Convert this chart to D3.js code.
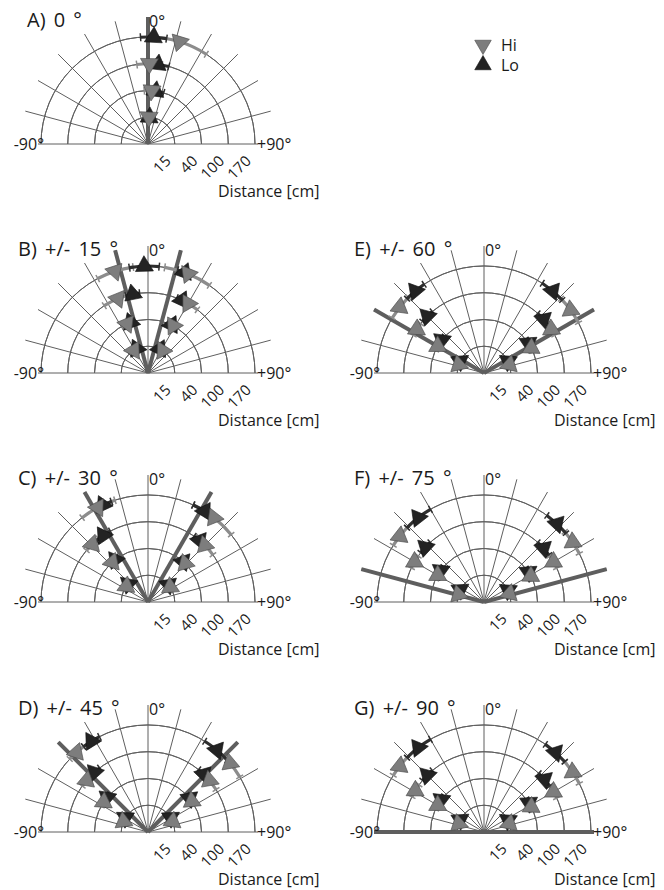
<!DOCTYPE html>
<html>
<head>
<meta charset="utf-8">
<script src="https://cdn.jsdelivr.net/npm/d3@7"></script>
<style>
  body { margin: 0; background: #fff; }
  text { font-family: "Open Sans", sans-serif; fill: #1a1a1a; }
</style>
</head>
<body>
<svg id="chart" width="664" height="890"></svg>
<script>
// distances of the rings (cm) and the target angle of each panel
const distances = [15, 40, 100, 170];
const panelTitles = ["A) 0 °", "B) +/- 15 °", "C) +/- 30 °", "D) +/- 45 °", "E) +/- 60 °", "F) +/- 75 °", "G) +/- 90 °"];
const targetAngles = [0, 15, 30, 45, 60, 75, 90];
const gridAngles = [-75, -60, -45, -30, -15, 0, 15, 30, 45, 60, 75];
const angleTicks = ["-90°", "0°", "+90°"];
const legendLabels = ["Hi", "Lo"];

// perceived angle (deg) per panel, per distance 15/40/100/170
// left = negative target, right = positive target (panel A only has one)
const hiMeanL = [null, [-32, -23, -22, -18], [-54, -42, -44, -28], [-67, -56, -50, -42], [-72, -60, -57, -52], [-74, -60, -60, -52], [-72, -60, -59, -52]];
const hiErrL  = [null, [5, 6, 11, 10], [5, 5, 6, 10], [5, 5, 5, 5], [4, 5, 5, 7], [4, 5, 5, 6], [4, 5, 5, 6]];
const hiMeanR = [[2, 4, 1, 17], [33, 28, 30, 22], [56, 44, 45, 38], [67, 55, 50, 50], [72, 62, 57, 54], [72, 61, 60, 56], [72, 62, 60, 56]];
const hiErrR  = [[5, 8, 9, 16], [5, 6, 8, 13], [5, 5, 9, 13], [5, 5, 8, 9], [4, 5, 5, 8], [4, 5, 5, 7], [4, 5, 5, 7]];

const loMeanL = [null, [-25, -19, -11, -2], [-48, -38, -34, -25], [-58, -50, -42, -32], [-64, -52, -45, -40], [-63, -54, -47, -38], [-63, -53, -45, -38]];
const loErrL  = [null, [4, 5, 5, 8], [4, 5, 6, 5], [4, 5, 5, 5], [4, 5, 5, 6], [4, 5, 5, 8], [4, 5, 5, 8]];
const loMeanR = [[3, 8, 7, 3], [26, 26, 25, 20], [50, 41, 40, 32], [58, 51, 44, 40], [64, 56, 48, 40], [64, 56, 48, 43], [64, 57, 49, 42]];
const loErrR  = [[5, 9, 8, 7], [4, 5, 4, 4], [4, 5, 5, 7], [4, 5, 5, 8], [4, 5, 6, 7], [4, 5, 6, 7], [4, 5, 6, 7]];

// layout
const rOuter = 107, rSpoke = 127, rBase = 110;
const colX = [148, 484];
const rowY = [144, 373, 602, 832];
const panelCol = [0, 0, 0, 0, 1, 1, 1];
const panelRow = [0, 1, 2, 3, 1, 2, 3];

const hiColor = "#7d7d7d", loColor = "#232323";
const gridColor = "#5f5f5f", targetColor = "#5e5e5e";

const svg = d3.select("#chart");

const rScale = d3.scalePoint().domain(distances).range([rOuter / 4, rOuter]);
const aScale = d3.scaleLinear().domain([-90, 90]).range([-Math.PI / 2, Math.PI / 2]);
const polar = (a, r) => [r * Math.sin(aScale(a)), -r * Math.cos(aScale(a))];

const tri = d3.symbol(d3.symbolTriangle, 140);
const legendTri = d3.symbol(d3.symbolTriangle, 118);

panelTitles.forEach((title, p) => {
  const cx = colX[panelCol[p]], cy = rowY[panelRow[p]];
  const g = svg.append("g").attr("transform", `translate(${cx},${cy})`);

  // rings
  g.selectAll(".ring").data(distances).join("path")
    .attr("class", "ring")
    .attr("d", d => d3.arc()({ innerRadius: rScale(d), outerRadius: rScale(d), startAngle: -Math.PI / 2, endAngle: Math.PI / 2 }))
    .attr("fill", "none").attr("stroke", gridColor).attr("stroke-width", 1);

  // spokes
  g.selectAll(".spoke").data(gridAngles).join("line")
    .attr("class", "spoke")
    .attr("x1", 0).attr("y1", 0)
    .attr("x2", d => polar(d, rSpoke)[0]).attr("y2", d => polar(d, rSpoke)[1])
    .attr("stroke", gridColor).attr("stroke-width", 1);
  g.append("line")
    .attr("x1", polar(-90, rBase)[0]).attr("y1", 0)
    .attr("x2", polar(90, rBase)[0]).attr("y2", 0)
    .attr("stroke", gridColor).attr("stroke-width", 1);

  // target lines
  const t = targetAngles[p];
  const targets = t === 0 ? [0] : [-t, t];
  g.selectAll(".target").data(targets).join("line")
    .attr("class", "target")
    .attr("x1", 0).attr("y1", 0)
    .attr("x2", d => polar(d, Math.abs(d) === 90 ? rBase : rSpoke)[0])
    .attr("y2", d => polar(d, Math.abs(d) === 90 ? rBase : rSpoke)[1])
    .attr("stroke", targetColor).attr("stroke-width", 4);

  // collect the points of this panel
  const pts = [];
  const addSide = (means, errs, cond) => {
    means[p] && means[p].forEach((m, i) => pts.push({ cond, dist: distances[i], mean: m, err: errs[p][i] }));
  };
  addSide(hiMeanL, hiErrL, "hi");
  addSide(hiMeanR, hiErrR, "hi");
  addSide(loMeanL, loErrL, "lo");
  addSide(loMeanR, loErrR, "lo");

  // error bars (arcs along the ring) with end ticks
  const bars = g.selectAll(".bar").data(pts).join("g").attr("class", "bar");
  bars.append("path")
    .attr("d", d => d3.arc()({
      innerRadius: rScale(d.dist) - 1.6, outerRadius: rScale(d.dist) + 1.6,
      startAngle: aScale(d.mean - d.err), endAngle: aScale(d.mean + d.err)
    }))
    .attr("fill", d => d.cond === "hi" ? "#8c8c8c" : "#2e2e2e");
  [-1, 1].forEach(s => {
    bars.append("line")
      .attr("x1", d => polar(d.mean + s * d.err, rScale(d.dist) - 4)[0])
      .attr("y1", d => polar(d.mean + s * d.err, rScale(d.dist) - 4)[1])
      .attr("x2", d => polar(d.mean + s * d.err, rScale(d.dist) + 4)[0])
      .attr("y2", d => polar(d.mean + s * d.err, rScale(d.dist) + 4)[1])
      .attr("stroke", d => d.cond === "hi" ? "#8c8c8c" : "#2e2e2e")
      .attr("stroke-width", 1.5);
  });

  // markers: Hi points inward, Lo points outward; Lo drawn first
  g.selectAll(".mark").data(pts.filter(d => d.cond === "lo").concat(pts.filter(d => d.cond === "hi")))
    .join("path")
    .attr("class", "mark")
    .attr("d", tri)
    .attr("transform", d => {
      const [x, y] = polar(d.mean, rScale(d.dist));
      return `translate(${x},${y}) rotate(${d.mean + (d.cond === "hi" ? 180 : 0)})`;
    })
    .attr("fill", d => d.cond === "hi" ? hiColor : loColor)
    .attr("stroke", d => d.cond === "hi" ? "#4a4a4a" : "#111")
    .attr("stroke-width", 0.6);

  // texts
  g.append("text").attr("x", p === 0 ? 27 - cx : -130).attr("y", -117)
    .style("font-size", "20px").style("word-spacing", "3px").text(title);
  g.append("text").attr("x", 1).attr("y", -117).style("font-size", "16px").text(angleTicks[1]);
  g.append("text").attr("x", -104).attr("y", 6).attr("text-anchor", "end").style("font-size", "16px").text(angleTicks[0]);
  g.append("text").attr("x", 109).attr("y", 6).style("font-size", "16px").text(angleTicks[2]);

  g.selectAll(".dtick").data(distances).join("text")
    .attr("class", "dtick")
    .attr("text-anchor", "end")
    .attr("transform", d => `translate(${rScale(d) - 3},18) rotate(-45)`)
    .style("font-size", "15px")
    .text(d => d);

  g.append("text").attr("x", 70).attr("y", 53).style("font-size", "16px").text("Distance [cm]");
});

// legend
const legend = svg.append("g").attr("transform", "translate(483,45)");
legendLabels.forEach((lab, i) => {
  legend.append("path").attr("d", legendTri)
    .attr("transform", `translate(0,${i * 20}) rotate(${i === 0 ? 180 : 0})`)
    .attr("fill", i === 0 ? hiColor : loColor)
    .attr("stroke", i === 0 ? "#4a4a4a" : "#111").attr("stroke-width", 0.6);
  legend.append("text").attr("x", 18).attr("y", i * 20 + 6).style("font-size", "16px").text(lab);
});
</script>
</body>
</html>
